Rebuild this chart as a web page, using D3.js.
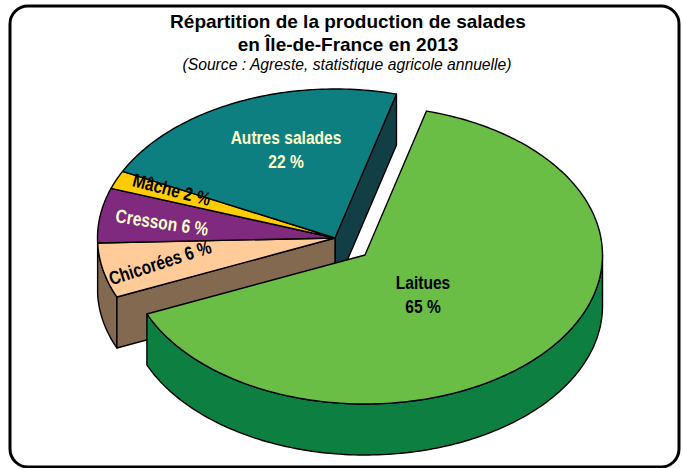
<!DOCTYPE html>
<html lang="fr">
<head>
<meta charset="utf-8">
<script src="https://cdn.jsdelivr.net/npm/d3@7"></script>
<style>
  html, body { margin: 0; padding: 0; background: #fff; }
  svg { display: block; }
  text { font-family: "Liberation Sans", Arial, sans-serif; }
  .lbl { font-weight: bold; font-size: 19px; text-anchor: middle; }
</style>
</head>
<body>
<svg id="chart" width="683" height="468"></svg>
<script>
// Valeurs (ordre horaire à partir de Laitues)
const categories = ["Laitues", "Chicorées", "Cresson", "Mâche", "Autres salades"];
const values = [65, 6, 6, 2, 22];
const topColors = ["#6abd45", "#ffcc99", "#7f2a7f", "#ffcc00", "#0d7f80"];
const sideColors = ["#0d7f40", "#836950", "#4c1a4c", "#997a00", "#123f45"];
const labelColors = ["#000", "#000", "#ffffcc", "#000", "#ffffcc"];
// Position de chaque ligne d'étiquette et rotation
const labelSpots = [
  { lines: ["Laitues", "65 %"], x: 423, y: 289, rot: 0 },
  { lines: ["Chicorées 6 %"], x: 162, y: 269, rot: -18 },
  { lines: ["Cresson 6 %"], x: 161, y: 229, rot: 8.5 },
  { lines: ["Mâche 2 %"], x: 170, y: 196, rot: 14.5 },
  { lines: ["Autres salades", "22 %"], x: 286, y: 144, rot: 0 }
];

const svg = d3.select("#chart");
const line = d3.line();

// Ellipse de la tarte vue en perspective
const rx = 237.5, ry = 149, depth = 51;
const sx = d3.scaleLinear().domain([-1, 1]).range([-rx, rx]);
const sy = d3.scaleLinear().domain([-1, 1]).range([-ry, ry]);

const pie = d3.pie().sort(null).value((d) => d)
  .startAngle((15 * Math.PI) / 180)
  .endAngle((375 * Math.PI) / 180);
const slices = pie(values);

function pt(a, cx, cy, dz = 0) {
  return [cx + sx(Math.sin(a)), cy - sy(Math.cos(a)) + dz];
}

function arcPts(a0, a1, cx, cy, dz = 0) {
  const n = Math.max(2, Math.ceil(Math.abs(a1 - a0) / 0.02));
  return d3.range(n + 1).map((i) => pt(a0 + ((a1 - a0) * i) / n, cx, cy, dz));
}

function topPath(s, cx, cy) {
  return line([[cx, cy], ...arcPts(s.startAngle, s.endAngle, cx, cy)]) + "Z";
}

// Paroi extérieure : seulement la partie de l'arc tournée vers l'avant
function wallPath(a0, a1, cx, cy) {
  return line([...arcPts(a0, a1, cx, cy), ...arcPts(a1, a0, cx, cy, depth)]) + "Z";
}

// Paroi de coupe le long d'un rayon
function cutPath(a, cx, cy) {
  const p = pt(a, cx, cy);
  return line([[cx, cy], p, [p[0], p[1] + depth], [cx, cy + depth]]) + "Z";
}

function addPath(d, fill) {
  svg.append("path").attr("d", d).attr("fill", fill)
    .attr("stroke", "#000").attr("stroke-width", 1.4).attr("stroke-linejoin", "round");
}

svg.append("rect")
  .attr("x", 10).attr("y", 6).attr("width", 669).attr("height", 461).attr("rx", 18)
  .attr("fill", "#fff").attr("stroke", "#000").attr("stroke-width", 3);

const cx0 = 335, cy0 = 238; // centre du bloc
const cx1 = 365, cy1 = 255; // centre de la part détachée

const [laitues, chicorees, cresson, mache, autres] = slices;

// Parois du bloc arrière
addPath(cutPath(autres.endAngle, cx0, cy0), sideColors[4]);
addPath(wallPath(chicorees.startAngle, chicorees.endAngle, cx0, cy0), sideColors[1]);
addPath(cutPath(chicorees.startAngle, cx0, cy0), sideColors[1]);

// Dessus du bloc arrière
[chicorees, cresson, mache, autres].forEach((s) => {
  addPath(topPath(s, cx0, cy0), topColors[s.index]);
});

// Part détachée
addPath(wallPath(Math.PI / 2, laitues.endAngle, cx1, cy1), sideColors[0]);
addPath(topPath(laitues, cx1, cy1), topColors[0]);

// Étiquettes : police resserrée comme une Arial Narrow
labelSpots.forEach((l, i) => {
  const t = svg.append("text").attr("class", "lbl").attr("fill", labelColors[i])
    .attr("transform", `translate(${l.x},${l.y}) rotate(${l.rot}) scale(0.82,1)`);
  l.lines.forEach((s, j) => {
    t.append("tspan").attr("x", 0).attr("dy", j ? 24 : 0).text(s);
  });
});

// Titre
const title = ["Répartition de la production de salades", "en Île-de-France en 2013"];
title.forEach((s, i) => {
  svg.append("text").attr("x", 348).attr("y", 28 + i * 23)
    .attr("text-anchor", "middle").attr("font-weight", "bold").attr("font-size", 19).text(s);
});
svg.append("text").attr("x", 347).attr("y", 70)
  .attr("text-anchor", "middle").attr("font-style", "italic").attr("font-size", 15.7)
  .text("(Source : Agreste, statistique agricole annuelle)");
</script>
</body>
</html>
